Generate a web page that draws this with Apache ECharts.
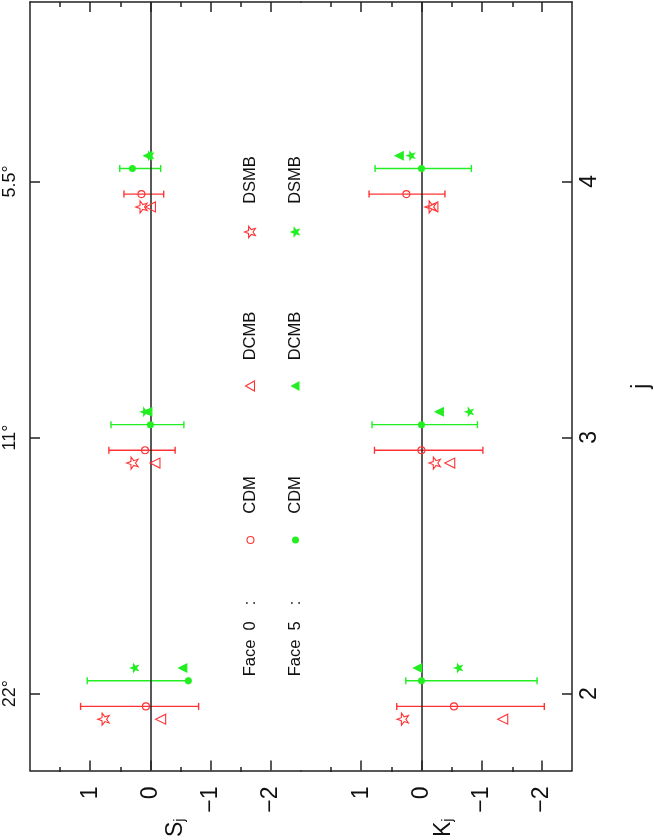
<!DOCTYPE html>
<html>
<head>
<meta charset="utf-8">
<title>S_j and K_j</title>
<script src="https://cdn.jsdelivr.net/npm/echarts@6.0.0/dist/echarts.min.js"></script>
<style>
  html, body { margin: 0; padding: 0; background: #fff; }
  #chart { width: 654px; height: 840px; }
</style>
</head>
<body>
<div id="chart"></div>
<script>
// j values and the matching angular scale
var jValues = [2, 3, 4];
var angleLabels = ['22°', '11°', '5.5°'];

// value axis ticks
var majorTicks = [-2, -1, 0, 1];
var halfTicks = [-1.5, -0.5, 0.5, 1.5];
var valueLabels = [-2, -1, 0, 1];

// S_j, face 0 (red)
var sCdm0 = [0.075, 0.09, 0.15];
var sCdm0Hi = [1.16, 0.69, 0.44];
var sCdm0Lo = [-0.80, -0.41, -0.22];
var sDcmb0 = [-0.17, -0.075, 0.0];
var sDsmb0 = [0.78, 0.30, 0.15];
// S_j, face 5 (green)
var sCdm5 = [-0.63, 0.0, 0.30];
var sCdm5Hi = [1.05, 0.655, 0.51];
var sCdm5Lo = [-0.63, -0.555, -0.17];
var sDcmb5 = [-0.53, 0.05, 0.05];
var sDsmb5 = [0.27, 0.10, 0.02];

// K_j, face 0 (red)
var kCdm0 = [-0.54, 0.0, 0.25];
var kCdm0Hi = [0.41, 0.78, 0.87];
var kCdm0Lo = [-2.04, -1.02, -0.39];
var kDcmb0 = [-1.35, -0.47, -0.19];
var kDsmb0 = [0.31, -0.22, -0.15];
// K_j, face 5 (green)
var kCdm5 = [0.0, 0.0, 0.0];
var kCdm5Hi = [0.26, 0.82, 0.77];
var kCdm5Lo = [-1.92, -0.93, -0.83];
var kDcmb5 = [0.07, -0.29, 0.375];
var kDsmb5 = [-0.61, -0.79, 0.18];

var RED = '#ff3333';
var GREEN = '#22ee22';
var INK = '#222';
var FONT = '"Liberation Sans", Arial, Helvetica, sans-serif';
var STAR = 'path://M0,-10L2.35,-3.24L9.51,-3.09L3.8,1.24L5.88,8.09L0,4L-5.88,8.09L-3.8,1.24L-9.51,-3.09L-2.35,-3.24Z';

function fmtVal(v) {
    return v < 0 ? '\u2212' + (-v) : String(v);
}

function pts(vals, dj) {
    return vals.map(function (v, i) { return [v, jValues[i] + dj]; });
}
function bars(lo, hi, dj) {
    return lo.map(function (l, i) { return [l, hi[i], jValues[i] + dj]; });
}

function renderErr(params, api) {
    var a = api.coord([api.value(0), api.value(2)]);
    var b = api.coord([api.value(1), api.value(2)]);
    var c = 3.5;
    var st = { stroke: api.visual('color'), lineWidth: 1.4 };
    return {
        type: 'group',
        children: [
            { type: 'line', shape: { x1: a[0], y1: a[1], x2: b[0], y2: b[1] }, style: st },
            { type: 'line', shape: { x1: a[0], y1: a[1] - c, x2: a[0], y2: a[1] + c }, style: st },
            { type: 'line', shape: { x1: b[0], y1: b[1] - c, x2: b[0], y2: b[1] + c }, style: st }
        ]
    };
}

function scatter(xi, yi, data, symbol, size, color, filled, rot) {
    return {
        type: 'scatter', xAxisIndex: xi, yAxisIndex: yi, data: data,
        symbol: symbol, symbolSize: size, symbolRotate: rot || 0, symbolKeepAspect: true,
        itemStyle: filled ? { color: color, opacity: 1 }
                          : { color: 'rgba(255,255,255,0)', borderColor: color, borderWidth: 1.1, opacity: 1 },
        emphasis: { disabled: true }, silent: true, z: 5
    };
}

// one panel = error bars + 6 marker series + zero line
function panel(xi, yi, d) {
    var list = [
        { type: 'custom', xAxisIndex: xi, yAxisIndex: yi, renderItem: renderErr,
          itemStyle: { color: RED }, data: bars(d.c0lo, d.c0hi, -0.05), encode: { x: [0, 1], y: 2 }, silent: true, z: 3 },
        { type: 'custom', xAxisIndex: xi, yAxisIndex: yi, renderItem: renderErr,
          itemStyle: { color: GREEN }, data: bars(d.c5lo, d.c5hi, 0.05), encode: { x: [0, 1], y: 2 }, silent: true, z: 3 },
        scatter(xi, yi, pts(d.c0, -0.05), 'circle', 7, RED, false),
        scatter(xi, yi, pts(d.t0, -0.1), 'triangle', 10, RED, false, 90),
        scatter(xi, yi, pts(d.s0, -0.1), STAR, 12, RED, false, 90),
        scatter(xi, yi, pts(d.c5, 0.05), 'circle', 7, GREEN, true),
        scatter(xi, yi, pts(d.t5, 0.1), 'triangle', 10, GREEN, true, 90),
        scatter(xi, yi, pts(d.s5, 0.1), STAR, 11, GREEN, true, 90)
    ];
    list[2].markLine = {
        silent: true, symbol: ['none', 'none'], label: { show: false },
        lineStyle: { color: INK, width: 1.5, type: 'solid' },
        data: [{ xAxis: 0 }]
    };
    return list;
}

var tickStyle = { color: INK, width: 1.5 };
var lineStyle = { color: INK, width: 1.5 };

function valAxis(grid, pos, opt) {
    var ax = {
        gridIndex: grid, type: 'value', min: -2.5, max: 2, inverse: true, position: pos,
        axisLine: { show: !!opt.line, onZero: false, lineStyle: lineStyle },
        axisTick: { show: true, inside: true, length: opt.len, customValues: opt.ticks, lineStyle: tickStyle },
        axisLabel: { show: false },
        splitLine: { show: false }
    };
    if (opt.labels) {
        ax.axisLabel = {
            show: true, rotate: 90, customValues: valueLabels, formatter: fmtVal,
            fontSize: 23, fontFamily: FONT, color: '#111', margin: 16
        };
        ax.name = '{a|' + opt.name + '}{b|j}';
        ax.nameLocation = 'middle';
        ax.nameRotate = 90;
        ax.nameGap = 36;
        ax.nameTextStyle = {
            padding: [opt.namePad, 0, 0, 0],
            rich: {
                a: { fontSize: 23, fontFamily: FONT, color: '#111', lineHeight: 23 },
                b: { fontSize: 14, fontFamily: FONT, color: '#111', lineHeight: 23, verticalAlign: 'bottom' }
            }
        };
    }
    return ax;
}

function jAxis(grid, pos, show) {
    return {
        gridIndex: grid, type: 'value', min: 1.7, max: 4.7, position: pos, show: show,
        axisLine: { show: true, onZero: false, lineStyle: lineStyle },
        axisTick: { show: true, inside: true, length: 10, customValues: jValues, lineStyle: tickStyle },
        splitLine: { show: false },
        axisLabel: { show: false }
    };
}

var yLeft = jAxis(0, 'left', true);
yLeft.axisLabel = {
    show: true, rotate: 90, customValues: jValues, fontSize: 18, fontFamily: FONT, color: '#111', margin: 11,
    formatter: function (v) { return angleLabels[jValues.indexOf(v)]; }
};
var yRight = jAxis(2, 'right', true);
yRight.axisLabel = {
    show: true, rotate: 90, customValues: jValues, fontSize: 23, fontFamily: FONT, color: '#111', margin: 6
};
yRight.name = 'j';
yRight.nameLocation = 'middle';
yRight.nameRotate = 90;
yRight.nameGap = 58;
yRight.nameTextStyle = { fontSize: 23, fontFamily: FONT, color: '#111' };

// legend, drawn rotated like the rest of the plot (pixel layout)
var legendRows = [
    { label: 'CDM', symY: 540, textY: 495, kind: 'circle' },
    { label: 'DCMB', symY: 386, textY: 336, kind: 'triangle' },
    { label: 'DSMB', symY: 232, textY: 180, kind: 'star' }
];
var legendCols = [
    { x: 250.5, face: '0', color: RED, filled: false },
    { x: 295.5, face: '5', color: GREEN, filled: true }
];

function starPoints(cx, cy, R, r) {
    var p = [];
    for (var i = 0; i < 10; i++) {
        var a = Math.PI + i * Math.PI / 5;   // first point faces left
        var rr = i % 2 ? r : R;
        p.push([cx + rr * Math.cos(a), cy + rr * Math.sin(a)]);
    }
    return p;
}

function vText(x, y, s) {
    return {
        type: 'text', x: x, y: y, rotation: Math.PI / 2,
        style: { text: s, font: '16.5px ' + FONT, fill: '#111', align: 'center', verticalAlign: 'middle' }
    };
}

var graphics = [];
legendCols.forEach(function (col) {
    var st = col.filled ? { fill: col.color } : { fill: 'none', stroke: col.color, lineWidth: 1.1 };
    graphics.push(vText(col.x, 658, 'Face'));
    graphics.push(vText(col.x, 626, col.face));
    graphics.push(vText(col.x, 603, ':'));
    legendRows.forEach(function (row) {
        graphics.push(vText(col.x, row.textY, row.label));
        var shape;
        if (row.kind === 'circle') {
            shape = { type: 'circle', shape: { cx: col.x, cy: row.symY, r: 3.5 }, style: st };
        } else if (row.kind === 'triangle') {
            shape = { type: 'polygon', shape: { points: [[col.x - 5, row.symY], [col.x + 4, row.symY - 5], [col.x + 4, row.symY + 5]] }, style: st };
        } else {
            shape = { type: 'polygon', shape: { points: starPoints(col.x, row.symY, 6, 2.5) }, style: st };
        }
        graphics.push(shape);
    });
});

var chart = echarts.init(document.getElementById('chart'), null, { renderer: 'canvas' });

var option = {
    backgroundColor: '#fff',
    animation: false,
    grid: [
        { left: 30, top: 2, width: 271, height: 770 },   // S_j
        { left: 30, top: 2, width: 271, height: 770 },   // S_j half ticks
        { left: 301, top: 2, width: 272, height: 770 },  // K_j
        { left: 301, top: 2, width: 272, height: 770 }   // K_j half ticks
    ],
    xAxis: [
        valAxis(0, 'bottom', { line: true, len: 10, ticks: majorTicks, labels: true, name: 'S', namePad: 20 }),
        valAxis(0, 'top', { line: true, len: 10, ticks: majorTicks }),
        valAxis(1, 'bottom', { len: 5, ticks: halfTicks }),
        valAxis(1, 'top', { len: 5, ticks: halfTicks }),
        valAxis(2, 'bottom', { line: true, len: 10, ticks: majorTicks, labels: true, name: 'K', namePad: 14 }),
        valAxis(2, 'top', { line: true, len: 10, ticks: majorTicks }),
        valAxis(3, 'bottom', { len: 5, ticks: halfTicks }),
        valAxis(3, 'top', { len: 5, ticks: halfTicks })
    ],
    yAxis: [
        yLeft,
        jAxis(1, 'left', false),
        yRight,
        jAxis(3, 'right', false)
    ],
    graphic: graphics,
    series: [].concat(
        panel(0, 0, { c0: sCdm0, c0lo: sCdm0Lo, c0hi: sCdm0Hi, t0: sDcmb0, s0: sDsmb0,
                      c5: sCdm5, c5lo: sCdm5Lo, c5hi: sCdm5Hi, t5: sDcmb5, s5: sDsmb5 }),
        panel(4, 2, { c0: kCdm0, c0lo: kCdm0Lo, c0hi: kCdm0Hi, t0: kDcmb0, s0: kDsmb0,
                      c5: kCdm5, c5lo: kCdm5Lo, c5hi: kCdm5Hi, t5: kDcmb5, s5: kDsmb5 })
    )
};

chart.setOption(option);
</script>
</body>
</html>
